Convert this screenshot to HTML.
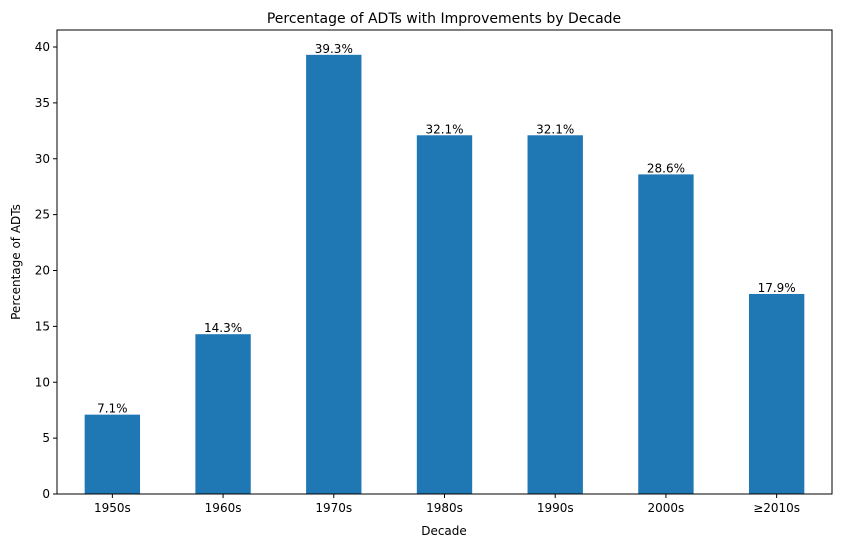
<!DOCTYPE html>
<html><head><meta charset="utf-8"><style>
body{margin:0;background:#fff;font-family:"Liberation Sans","DejaVu Sans",sans-serif}
svg text{font-family:"DejaVu Sans","Liberation Sans",sans-serif}
</style></head><body>
<svg id="c" width="841" height="547" xmlns="http://www.w3.org/2000/svg">
<rect width="841" height="547" fill="#fff"/>
<text x="444" y="23" text-anchor="middle" font-size="14">Percentage of ADTs with Improvements by Decade</text>
<text x="444" y="535" text-anchor="middle" font-size="12">Decade</text>
<text x="20" y="262" text-anchor="middle" font-size="12" transform="rotate(-90 20 262)">Percentage of ADTs</text>
<g id="bars"></g><g id="axes"></g>
</svg>
<script>
const categories=["1950s","1960s","1970s","1980s","1990s","2000s","≥2010s"];
const values=[7.1,14.3,39.3,32.1,32.1,28.6,17.9];
const valueLabels=["7.1%","14.3%","39.3%","32.1%","32.1%","28.6%","17.9%"];
const yTicks=[0,5,10,15,20,25,30,35,40];
const L=57,R=832,T=30,B=494;
const NS="http://www.w3.org/2000/svg";
const x=i=>L+(i+0.5)*(R-L)/categories.length;
const y=v=>B-v*(B-47)/40;
const bw=0.5*(R-L)/categories.length;
const bars=document.getElementById('bars'),axes=document.getElementById('axes');
function mk(tag,attrs,parent,text){const e=document.createElementNS(NS,tag);for(const k in attrs)e.setAttribute(k,attrs[k]);if(text!==undefined)e.textContent=text;parent.appendChild(e);return e;}
values.forEach((v,i)=>{
 const r=mk('rect',{x:x(i)-bw/2,y:y(v),width:bw,height:B-y(v),fill:'#1f77b4'},bars);
 
 
 const t=mk('text',{x:x(i),y:y(v)-2,'text-anchor':'middle','font-size':12},bars,valueLabels[i]);
 
 
 mk('line',{x1:x(i),x2:x(i),y1:B,y2:B+4,stroke:'#000'},axes);
 const xl=mk('text',{x:x(i),y:B+18,'text-anchor':'middle','font-size':12},axes,categories[i]);
 
 
});
yTicks.forEach(v=>{
 mk('line',{x1:L-4,x2:L,y1:y(v),y2:y(v),stroke:'#000'},axes);
 const t=mk('text',{x:L-7,y:y(v)+4,'text-anchor':'end','font-size':12},axes,String(v));
 
 
});
const f=mk('rect',{x:L,y:T,width:R-L,height:B-T,fill:'none',stroke:'#000','stroke-width':1},axes);


</script>
</body></html>
